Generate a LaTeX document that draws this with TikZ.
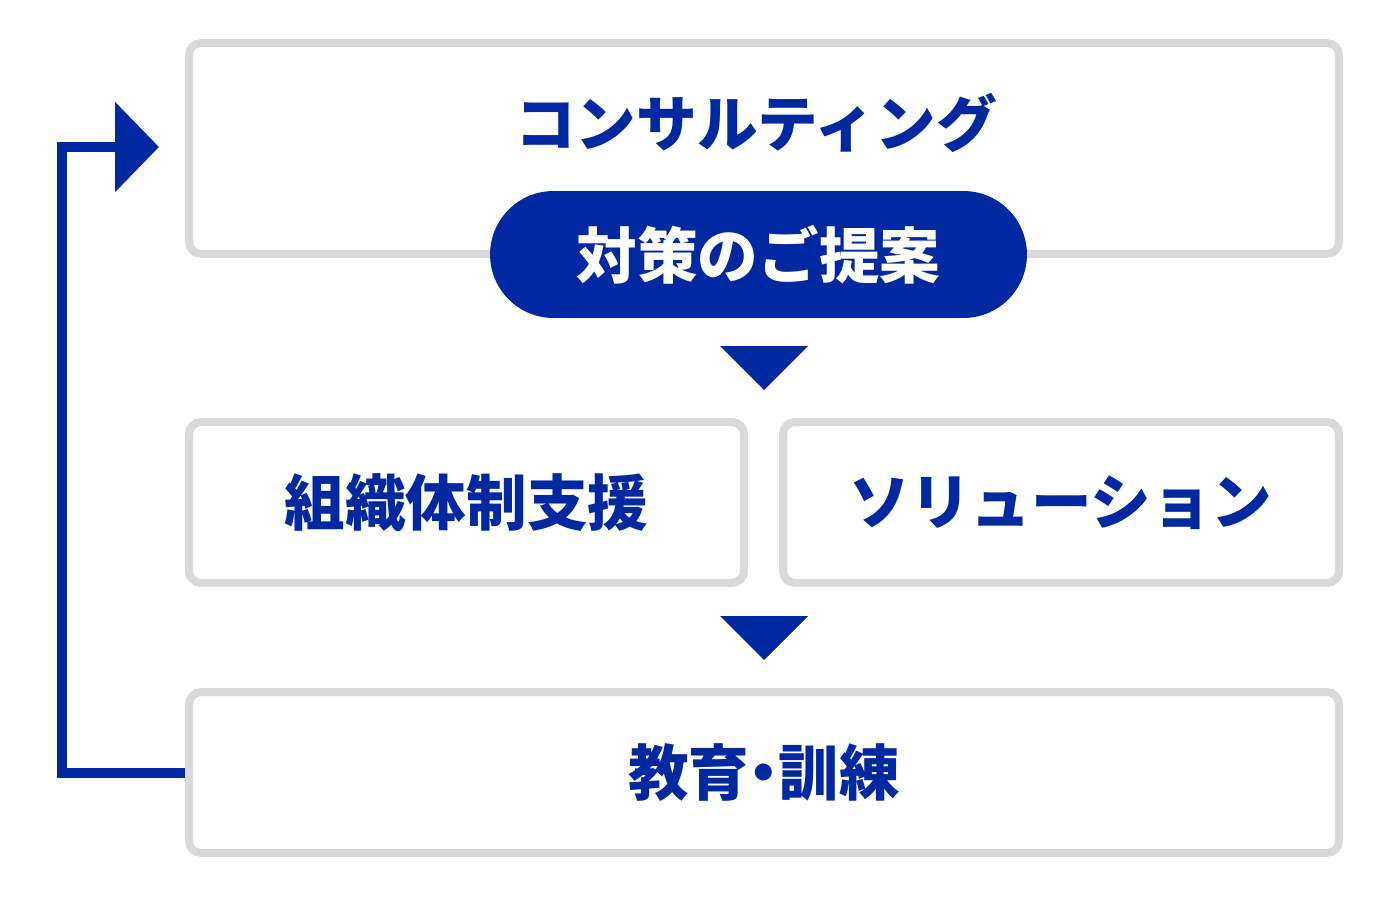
\documentclass[tikz,border=0pt]{standalone}
\usepackage{fontspec}
\newfontfamily\jpfont{Noto Sans CJK JP Black}
\usetikzlibrary{arrows.meta}
\definecolor{navy}{RGB}{0,40,160}
\definecolor{frame}{RGB}{217,217,217}
\tikzset{
	box/.style={draw=frame,line width=0.16cm,rounded corners=0.24cm,inner sep=0,outer sep=0.08cm},
	lbl/.style={text=navy,font=\jpfont\fontsize{34.5pt}{36pt}\selectfont,inner sep=0},
	pill/.style={fill=navy,rounded corners=1.27cm,minimum width=10.74cm,minimum height=2.54cm,inner sep=0,text=white,font=\jpfont\fontsize{34.5pt}{36pt}\selectfont},
	fb/.style={draw=navy,line width=0.2cm}
}
\begin{document}
\begin{tikzpicture}[x=0.02cm,y=-0.02cm]
	\useasboundingbox (0,0) rectangle (1400,899);
	\node[box,minimum width=23cm,minimum height=4.22cm] (consult) at (764,148.5) {};
	\node[lbl] (consulttitle) at (756,123) {コンサルティング};
	\node[pill] (proposal) at (758.5,254.5) {対策のご提案};
	\node[box,minimum width=11.1cm,minimum height=3.22cm,lbl] (org) at (466.5,502.5) {組織体制支援};
	\node[box,minimum width=11.12cm,minimum height=3.22cm,lbl] (solution) at (1061,502.5) {ソリューション};
	\node[box,minimum width=23cm,minimum height=3.22cm,lbl] (training) at (764,772.5) {教育\kern-0.26em・\kern-0.26em訓練};
	\fill[navy] (720,346) -- (808,346) -- (764,390) -- cycle;
	\fill[navy] (720,616) -- (808,616) -- (764,660) -- cycle;
	\coordinate (fbtip) at (159,147);
	\draw[fb,-{Triangle[length=0.88cm,width=1.76cm]}] (training.west) -| (62,147) -- (fbtip);
\end{tikzpicture}
\end{document}
